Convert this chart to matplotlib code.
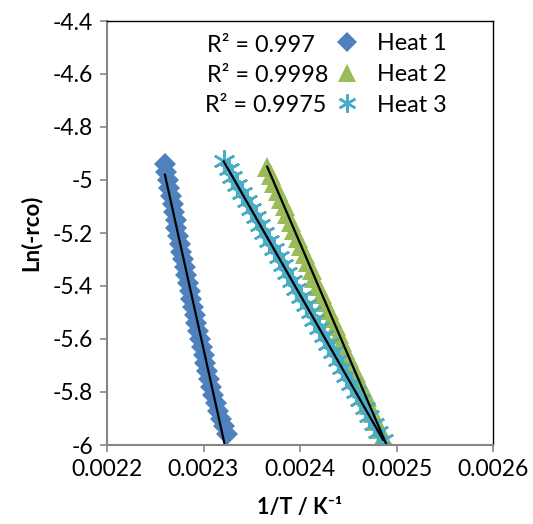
import numpy as np
import matplotlib
matplotlib.use('Agg')
import matplotlib.pyplot as plt
from matplotlib.lines import Line2D

plt.rcParams['font.family'] = ['Lato', 'DejaVu Sans']

# data, 1/T in units of 1e-6 K^-1
heat1_x = [2260, 2261, 2263, 2264, 2266, 2268, 2269, 2271, 2272, 2274, 2276, 2277,
           2279, 2281, 2282, 2284, 2286, 2287, 2289, 2291, 2292, 2294, 2296, 2298,
           2300, 2302, 2304, 2306, 2308, 2310, 2313, 2315, 2318, 2321, 2324]
heat1_y = [-4.94, -4.97, -5.00, -5.03, -5.06, -5.09, -5.12, -5.15, -5.18, -5.21, -5.24, -5.27,
           -5.30, -5.33, -5.36, -5.39, -5.42, -5.45, -5.48, -5.51, -5.54, -5.57, -5.60, -5.63,
           -5.66, -5.69, -5.72, -5.75, -5.78, -5.81, -5.84, -5.87, -5.90, -5.93, -5.96]

heat2_x = [2366, 2370, 2373, 2377, 2380, 2384, 2387, 2391, 2394, 2398, 2401, 2405,
           2408, 2412, 2415, 2419, 2423, 2426, 2430, 2433, 2437, 2440, 2444, 2447,
           2451, 2454, 2458, 2461, 2465, 2469, 2472, 2476, 2479, 2483, 2486, 2490]
heat2_y = [-4.95, -4.98, -5.01, -5.04, -5.07, -5.10, -5.13, -5.16, -5.19, -5.22, -5.25, -5.28,
           -5.31, -5.34, -5.37, -5.40, -5.43, -5.46, -5.49, -5.52, -5.55, -5.58, -5.61, -5.64,
           -5.67, -5.70, -5.73, -5.76, -5.79, -5.82, -5.85, -5.88, -5.91, -5.94, -5.97, -6.00]

heat3_x = [2321, 2326, 2330, 2335, 2340, 2345, 2349, 2354, 2359, 2363, 2368, 2373,
           2378, 2382, 2387, 2392, 2396, 2401, 2406, 2411, 2415, 2420, 2425, 2429,
           2434, 2439, 2444, 2448, 2453, 2458, 2462, 2467, 2472, 2477, 2481, 2486]
heat3_y = [-4.93, -4.96, -4.99, -5.02, -5.05, -5.08, -5.11, -5.14, -5.17, -5.20, -5.23, -5.26,
           -5.29, -5.32, -5.35, -5.38, -5.41, -5.44, -5.47, -5.50, -5.53, -5.56, -5.59, -5.62,
           -5.65, -5.68, -5.71, -5.74, -5.77, -5.80, -5.83, -5.86, -5.89, -5.92, -5.95, -5.98]

labels = ['Heat 1', 'Heat 2', 'Heat 3']
r2_labels = ['R² = 0.997', 'R² = 0.9998', 'R² = 0.9975']
xticks = [0.0022, 0.0023, 0.0024, 0.0025, 0.0026]
yticks = [-4.4, -4.6, -4.8, -5.0, -5.2, -5.4, -5.6, -5.8, -6.0]

series = [(heat1_x, heat1_y), (heat2_x, heat2_y), (heat3_x, heat3_y)]
colors = ['#4F81BD', '#9BBB59', '#4BACC6']
markers = ['D', '^', (6, 2, 0)]
msizes = [11, 15, 16]
legend_ms = [10, 13, 13]

fig = plt.figure(figsize=(5.33, 5.24), dpi=100)
ax = fig.add_axes([107 / 533, 1 - 445 / 524, (493 - 107) / 533, (445 - 21) / 524])

handles = []
for (xs, ys), c, m, ms, lms, lab in zip(series, colors, markers, msizes, legend_ms, labels):
    x = np.array(xs) * 1e-6
    y = np.array(ys)
    kw = dict(color=c, linestyle='none', marker=m)
    if m == (6, 2, 0):
        kw.update(markeredgewidth=1.8, markeredgecolor=c)
    else:
        kw.update(markeredgewidth=0)
    ax.plot(x, y, markersize=ms, **kw)
    handles.append(Line2D([], [], label=lab, markersize=lms, **kw))

# linear trend lines
for (xs, ys) in series:
    x = np.array(xs) * 1e-6
    y = np.array(ys)
    k, b = np.polyfit(x, y, 1)
    xl = np.array([x.min(), x.max()])
    ax.plot(xl, k * xl + b, color='black', lw=1.6)

ax.set_xlim(0.0022, 0.0026)
ax.set_ylim(-6, -4.4)
ax.set_xticks(xticks)
ax.set_xticklabels([f'{v:.4f}' for v in xticks])
ax.set_yticks(yticks)
ax.set_yticklabels([f'{v:g}' for v in yticks])
ax.tick_params(labelsize=16.5, direction='out', length=5, color='#868686', width=1.2, pad=5)

for s in ['left', 'bottom']:
    ax.spines[s].set_color('#868686')
    ax.spines[s].set_linewidth(1.5)
for s in ['top', 'right']:
    ax.spines[s].set_color('black')
    ax.spines[s].set_linewidth(1.0)

ax.set_xlabel('1/T / K⁻¹', fontsize=15.5, fontweight='bold', labelpad=12)
ax.set_ylabel('Ln(-rco)', fontsize=16, fontweight='bold', labelpad=8)

ax.legend(handles=handles, loc='upper left', bbox_to_anchor=(333 / 533, 1 - 33 / 524),
          bbox_transform=fig.transFigure, frameon=False, fontsize=16.8,
          handlelength=1.2, handletextpad=0.7, labelspacing=0.42, borderaxespad=0,
          borderpad=0)

r2_pos = [(207, 45), (207, 75), (205, 105)]
for (px, py), t in zip(r2_pos, r2_labels):
    fig.text(px / 533, 1 - py / 524, t, fontsize=16.8, ha='left', va='center')

fig.savefig('out.png', dpi=100)
